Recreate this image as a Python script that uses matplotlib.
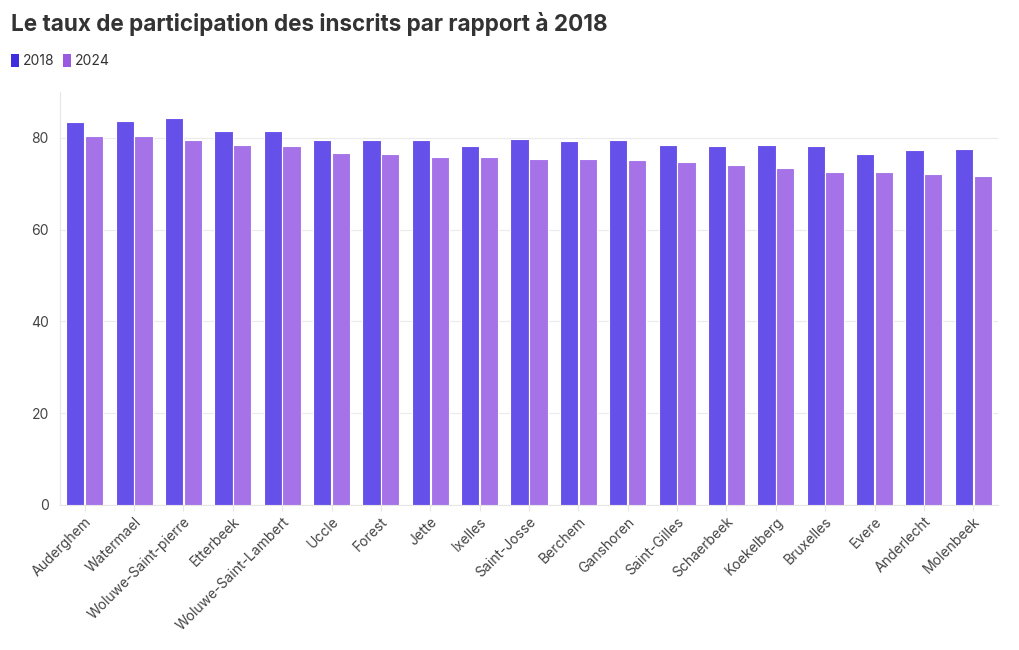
import numpy as np
import matplotlib.pyplot as plt
from matplotlib.patches import Patch

plt.rcParams['font.family'] = ['Inter', 'DejaVu Sans']

communes = ['Auderghem', 'Watermael', 'Woluwe-Saint-pierre', 'Etterbeek',
            'Woluwe-Saint-Lambert', 'Uccle', 'Forest', 'Jette', 'Ixelles',
            'Saint-Josse', 'Berchem', 'Ganshoren', 'Saint-Gilles', 'Schaerbeek',
            'Koekelberg', 'Bruxelles', 'Evere', 'Anderlecht', 'Molenbeek']
taux_2018 = [83.5, 83.6, 84.4, 81.6, 81.6, 79.6, 79.6, 79.5, 78.2, 79.8,
             79.3, 79.5, 78.5, 78.3, 78.5, 78.2, 76.4, 77.4, 77.6]
taux_2024 = [80.5, 80.4, 79.6, 78.5, 78.3, 76.7, 76.5, 75.9, 75.8, 75.5,
             75.4, 75.2, 74.8, 74.0, 73.5, 72.5, 72.5, 72.2, 71.7]

c2018 = '#6550E9'
c2024 = '#A672E8'

fig = plt.figure(figsize=(10.2, 6.5), dpi=100)
ax = fig.add_axes([60 / 1020, 145 / 650, 938 / 1020, 413 / 650])

x = np.arange(len(communes))
w = 0.37
ax.bar(x - w / 2 - 0.005, taux_2018, width=w, color=c2018, edgecolor='white', linewidth=0.8, zorder=3)
ax.bar(x + w / 2 + 0.005, taux_2024, width=w, color=c2024, edgecolor='white', linewidth=0.8, zorder=3)

ax.set_xlim(-0.5, len(communes) - 0.5)
ax.set_ylim(0, 90)
ax.set_yticks([0, 20, 40, 60, 80])
ax.grid(axis='y', color='#ebebeb', linewidth=0.8, zorder=0)
ax.set_xticks(x)
ax.set_xticklabels(communes, rotation=45, ha='right', rotation_mode='anchor',
                   fontsize=10, color='#444444')
ax.tick_params(axis='y', length=0, labelsize=10, labelcolor='#444444', pad=8)
ax.tick_params(axis='x', length=4, color='#e6e6e6', pad=3)
for s in ['top', 'right']:
    ax.spines[s].set_visible(False)
ax.spines['left'].set_color('#e6e6e6')
ax.spines['bottom'].set_color('#e6e6e6')

fig.text(11 / 1020, 1 - 24 / 650, 'Le taux de participation des inscrits par rapport à 2018',
         fontsize=16.2, fontweight='bold', color='#333333', va='center', ha='left')

handles = [Patch(facecolor='#3F2EE0', edgecolor='none', label='2018'),
           Patch(facecolor='#9A5AE0', edgecolor='none', label='2024')]
fig.legend(handles=handles, loc='center left', bbox_to_anchor=(11 / 1020, 1 - 61 / 650),
           ncol=2, frameon=False, fontsize=10, handlelength=0.6, handleheight=1.1,
           handletextpad=0.25, columnspacing=0.6, labelcolor='#333333',
           borderpad=0, borderaxespad=0)

fig.savefig('out.png', dpi=100)
